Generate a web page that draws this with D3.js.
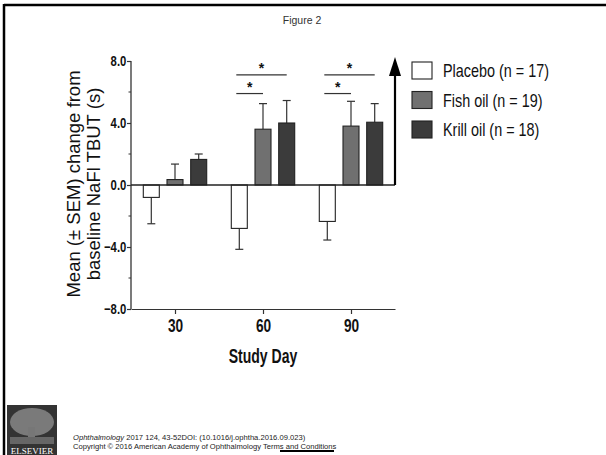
<!DOCTYPE html>
<html>
<head>
<meta charset="utf-8">
<script src="https://cdn.jsdelivr.net/npm/d3@7"></script>
<style>
  body { margin: 0; background: #fff; }
  svg { display: block; }
</style>
</head>
<body>
<script>
// data
var days = ["30", "60", "90"];
var groups = ["Placebo", "Fish oil", "Krill oil"];
var legendLabels = ["Placebo (n = 17)", "Fish oil (n = 19)", "Krill oil (n = 18)"];
var placeboMean = [-0.8, -2.8, -2.35];
var placeboSem = [1.7, 1.35, 1.2];
var fishMean = [0.35, 3.6, 3.8];
var fishSem = [1.0, 1.65, 1.6];
var krillMean = [1.65, 4.0, 4.05];
var krillSem = [0.35, 1.45, 1.2];
var yTicks = [-8, -4, 0, 4, 8];
var yMinorTicks = [-6, -2, 2, 6];
// significance brackets: day, to group, level
var sigDays = ["60", "60", "90", "90"];
var sigTo = ["Krill oil", "Fish oil", "Krill oil", "Fish oil"];
var sigLevel = [7.1, 5.9, 7.1, 5.9];

var width = 606, height = 455;
var sans = "'Liberation Sans', Arial, sans-serif";

var svg = d3.select("body").append("svg")
    .attr("width", width)
    .attr("height", height);

// narrow text: squeeze Liberation Sans horizontally
function narrowText(sel, px, py, s) {
  return sel.append("text")
      .attr("transform", "translate(" + px + "," + py + ") scale(" + s + ",1)")
      .style("font-family", sans);
}

// frame
svg.append("line").attr("x1", 4).attr("x2", width).attr("y1", 5).attr("y2", 5)
    .style("stroke", "#000").style("stroke-width", 2.5);
svg.append("line").attr("x1", 4).attr("x2", 4).attr("y1", 4).attr("y2", height)
    .style("stroke", "#000").style("stroke-width", 2.5);

svg.append("text")
    .attr("x", 302).attr("y", 24)
    .attr("text-anchor", "middle")
    .style("font-family", sans)
    .style("font-size", "10.5px")
    .style("fill", "#333")
    .text("Figure 2");

var x0 = 131, x1 = 395;
var y = d3.scaleLinear().domain([-8, 8]).range([309, 61]);
var x = d3.scaleLinear().domain([15, 105]).range([x0, x1]);
var offset = d3.scalePoint().domain(groups).range([-23.7, 23.7]);
var barW = 16;

var g = svg.append("g");

// y axis
var yAxis = d3.axisLeft(y).tickValues(yTicks).tickSize(4).tickFormat(d3.format(".1f"));
var ya = g.append("g").attr("transform", "translate(" + x0 + ",0)").call(yAxis);
ya.selectAll(".tick line").style("stroke", "#333").style("stroke-width", 1.2);
ya.select(".domain").remove();
g.append("line").attr("x1", x0).attr("x2", x0).attr("y1", y(8)).attr("y2", y(-8))
    .style("stroke", "#333").style("stroke-width", 1.3);
ya.selectAll(".tick text")
    .attr("x", -6)
    .attr("transform", "scale(0.78,1)")
    .style("font-family", sans)
    .style("font-weight", "bold")
    .style("font-size", "14.5px")
    .style("fill", "#111");
g.selectAll(".minor").data(yMinorTicks).enter().append("line")
    .attr("x1", x0 - 2.5).attr("x2", x0)
    .attr("y1", function(d) { return y(d); })
    .attr("y2", function(d) { return y(d); })
    .style("stroke", "#333");

// x axis at bottom
var xAxis = d3.axisBottom(x).tickValues(days.map(Number)).tickSize(5).tickSizeOuter(0);
var xa = g.append("g").attr("transform", "translate(0," + y(-8) + ")").call(xAxis);
xa.selectAll("line, path").style("stroke", "#333").style("stroke-width", 1.2);
xa.selectAll(".tick text")
    .attr("y", 10)
    .attr("transform", "scale(0.76,1)")
    .style("font-family", sans)
    .style("font-weight", "bold")
    .style("font-size", "18px")
    .style("fill", "#111");

narrowText(g, 263, 363, 0.72)
    .attr("text-anchor", "middle")
    .style("font-weight", "bold")
    .style("font-size", "19.5px")
    .style("fill", "#111")
    .text("Study Day");

// y title
var yt = g.append("text")
    .attr("transform", "translate(0,184) rotate(-90)")
    .attr("text-anchor", "middle")
    .style("font-family", sans)
    .style("font-size", "18.5px")
    .style("fill", "#111");
yt.append("tspan").attr("x", 0).attr("y", 80).text("Mean (\u00B1 SEM) change from");
yt.append("tspan").attr("x", 0).attr("y", 100).text("baseline NaFl TBUT (s)");

// bars
var rows = [];
days.forEach(function(d, i) {
  rows.push({day: d, group: "Placebo", mean: placeboMean[i], sem: placeboSem[i]});
  rows.push({day: d, group: "Fish oil", mean: fishMean[i], sem: fishSem[i]});
  rows.push({day: d, group: "Krill oil", mean: krillMean[i], sem: krillSem[i]});
});
var color = d3.scaleOrdinal().domain(groups).range(["#ffffff", "#707070", "#3b3b3b"]);
function cx(d) { return x(+d.day) + offset(d.group); }
function tip(d) { return y(d.mean + (d.mean < 0 ? -d.sem : d.sem)); }

// error bars (one-sided, away from zero)
var err = g.selectAll(".err").data(rows).enter().append("g").attr("class", "err")
    .style("stroke", "#333").style("stroke-width", 1.2);
err.append("line")
    .attr("x1", cx).attr("x2", cx)
    .attr("y1", function(d) { return y(d.mean); })
    .attr("y2", tip);
err.append("line")
    .attr("x1", function(d) { return cx(d) - 4; })
    .attr("x2", function(d) { return cx(d) + 4; })
    .attr("y1", tip)
    .attr("y2", tip);

g.selectAll(".bar").data(rows).enter().append("rect")
    .attr("class", "bar")
    .attr("x", function(d) { return cx(d) - barW / 2; })
    .attr("width", barW)
    .attr("y", function(d) { return y(Math.max(0, d.mean)); })
    .attr("height", function(d) { return Math.abs(y(d.mean) - y(0)); })
    .style("fill", function(d) { return color(d.group); })
    .style("stroke", "#222")
    .style("stroke-width", 1.1);

// zero line
g.append("line").attr("x1", x0).attr("x2", x1).attr("y1", y(0)).attr("y2", y(0))
    .style("stroke", "#222").style("stroke-width", 1.4);

// arrow at the right
g.append("line").attr("x1", x1).attr("x2", x1).attr("y1", y(0)).attr("y2", 72)
    .style("stroke", "#000").style("stroke-width", 2.2);
g.append("path")
    .attr("d", "M" + (x1 - 6) + ",76L" + x1 + ",57L" + (x1 + 6) + ",76Z")
    .style("fill", "#000");

// significance brackets
sigDays.forEach(function(d, i) {
  var xa0 = x(+d) + offset("Placebo") - 3;
  var xa1 = x(+d) + offset(sigTo[i]);
  var yy = y(sigLevel[i]);
  g.append("line").attr("x1", xa0).attr("x2", xa1).attr("y1", yy).attr("y2", yy)
      .style("stroke", "#333").style("stroke-width", 1.2);
  g.append("text")
      .attr("x", (xa0 + xa1) / 2).attr("y", yy - 2)
      .attr("text-anchor", "middle")
      .style("font-family", sans)
      .style("font-weight", "bold")
      .style("font-size", "14px")
      .style("fill", "#111")
      .text("*");
});

// legend
var leg = g.selectAll(".leg").data(groups).enter().append("g")
    .attr("transform", function(d, i) { return "translate(412," + (62 + i * 29.5) + ")"; });
leg.append("rect")
    .attr("width", 20).attr("height", 17)
    .style("fill", function(d) { return color(d); })
    .style("stroke", "#222").style("stroke-width", 1.1);
leg.append("text")
    .attr("transform", "translate(31,15) scale(0.8,1)")
    .style("font-family", sans)
    .style("font-size", "18px")
    .style("fill", "#111")
    .text(function(d, i) { return legendLabels[i]; });

// footer: publisher logo block
var logo = svg.append("g").attr("transform", "translate(7,405)");
logo.append("rect").attr("width", 50).attr("height", 50).style("fill", "#333");
logo.append("ellipse").attr("cx", 25).attr("cy", 17).attr("rx", 22).attr("ry", 14)
    .style("fill", "#999").style("opacity", 0.7);
logo.append("rect").attr("x", 21).attr("y", 22).attr("width", 7).attr("height", 16)
    .style("fill", "#777");
logo.append("rect").attr("x", 3).attr("y", 32).attr("width", 44).attr("height", 7)
    .style("fill", "#666");
logo.append("text")
    .attr("x", 25).attr("y", 49)
    .attr("text-anchor", "middle")
    .style("font-family", "'Liberation Serif', 'DejaVu Serif', serif")
    .style("font-size", "9px")
    .style("fill", "#fff")
    .text("ELSEVIER");

var foot = svg.append("text")
    .attr("x", 73).attr("y", 440)
    .style("font-family", sans)
    .style("font-size", "7.6px")
    .style("fill", "#222");
foot.append("tspan").style("font-style", "italic").text("Ophthalmology");
foot.append("tspan").text(" 2017 124, 43-52DOI: (10.1016/j.ophtha.2016.09.023)");
var foot2 = svg.append("text")
    .attr("x", 73).attr("y", 449)
    .style("font-family", sans)
    .style("font-size", "7.6px")
    .style("fill", "#222");
foot2.append("tspan").text("Copyright \u00A9 2016 American Academy of Ophthalmology ");
foot2.append("tspan").text("Terms and Conditions");
svg.append("line").attr("x1", 280).attr("x2", 334).attr("y1", 451).attr("y2", 451)
    .style("stroke", "#000").style("stroke-width", 2);
</script>
</body>
</html>
